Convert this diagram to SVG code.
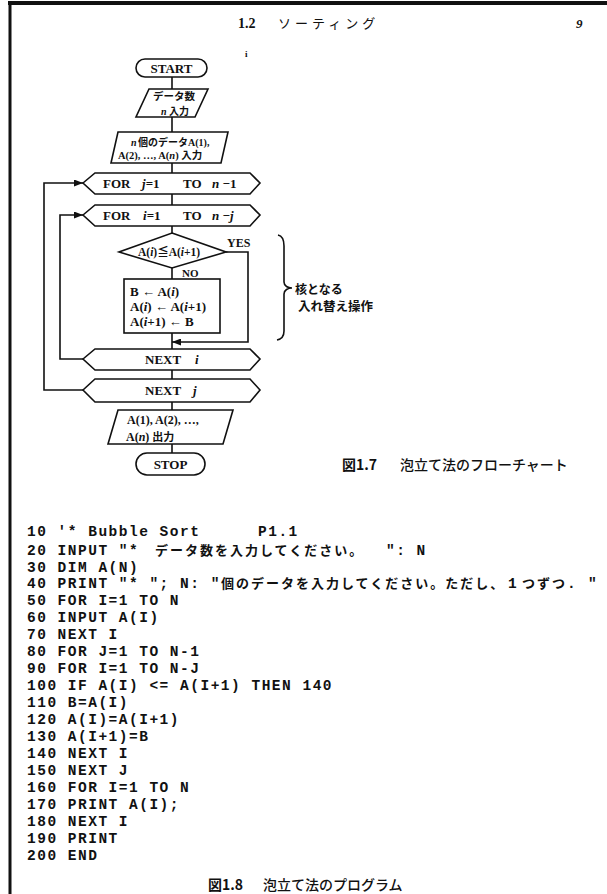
<svg xmlns="http://www.w3.org/2000/svg" width="607" height="894" viewBox="0 0 607 894">
<style>
.s{fill:#fff;stroke:#111;stroke-width:1.6}
.c{fill:none;stroke:#111;stroke-width:1.6}
.t{font-family:"Liberation Serif","Noto Sans CJK JP",serif;font-weight:bold;fill:#111}
.j{font-family:"Noto Sans CJK JP",sans-serif;font-weight:bold;fill:#111}
.it{font-style:italic}
.code{font-family:"Liberation Mono","Noto Sans CJK JP",monospace;font-weight:bold;font-size:14.5px;letter-spacing:1.5px;fill:#111}
.cj{font-family:"Noto Sans CJK JP",sans-serif;font-weight:bold;font-size:13px;letter-spacing:2px}
</style>
<defs>
<marker id="arr" markerUnits="userSpaceOnUse" markerWidth="9" markerHeight="7" refX="9" refY="3.5" orient="auto">
<path d="M0,0 L9,3.5 L0,7 z" fill="#111"/>
</marker>
</defs>
<rect width="607" height="894" fill="#fff"/>
<g id="page-border">
<line x1="8" y1="3" x2="607" y2="3" stroke="#111" stroke-width="4"/>
<line x1="10" y1="1" x2="10" y2="894" stroke="#111" stroke-width="3"/>
</g>
<g id="header">
<text class="t" x="238" y="28" font-size="14" fill="#333">1.2</text>
<text class="j" x="278" y="28" font-size="13" letter-spacing="4" style="font-weight:normal" fill="#333">ソーティング</text>
<text class="t it" x="576" y="28" font-size="13">9</text>
<text class="t" x="245" y="57" font-size="9">i</text>
</g>
<g id="connectors">
<path class="c" d="M172,77 V89 M172,117 V132 M172,163 V173 M172,194 V205 M172,226 V233 M172,268 V279 M172,333 V349 M172,370 V379 M172,402 V410 M172,444 V453"/>
<path class="c" d="M226,252 H248 V342 H172" marker-end="url(#arr)"/>
<path class="c" d="M83,359 H60 V215 H83" marker-end="url(#arr)"/>
<path class="c" d="M83,390 H44 V183 H83" marker-end="url(#arr)"/>
<text class="t" x="227" y="247" font-size="12">YES</text>
<text class="t" x="182" y="277" font-size="11">NO</text>
</g>
<g id="start">
<rect class="s" x="136" y="59" width="71" height="18" rx="9"/>
<text class="t" x="171.5" y="73" font-size="13" text-anchor="middle">START</text>
</g>
<g id="input-n">
<polygon class="s" points="149,89 208,89 195,117 136,117"/>
<text class="j" x="153" y="100" font-size="10.5">データ数</text>
<text class="t" x="161" y="115" font-size="10"><tspan class="it">n</tspan><tspan class="j" x="169">入力</tspan></text>
</g>
<g id="input-data">
<polygon class="s" points="118,132 228,132 221,163 111,163"/>
<text class="t" x="131" y="146" font-size="10"><tspan class="it">n</tspan><tspan class="j" x="138">個のデータ</tspan><tspan>A(1),</tspan></text>
<text class="t" x="118" y="158.5" font-size="10.5">A(2), …, A(<tspan class="it">n</tspan>) <tspan class="j">入力</tspan></text>
</g>
<g id="for-j">
<polygon class="s" points="83,183 95,173 250,173 260,183 250,194 95,194"/>
<text class="t" y="188" font-size="13"><tspan x="103">FOR</tspan><tspan x="142" class="it">j</tspan><tspan>=1</tspan><tspan x="183">TO</tspan><tspan x="212" class="it">n</tspan><tspan> −1</tspan></text>
</g>
<g id="for-i">
<polygon class="s" points="83,215 95,205 250,205 260,215 250,226 95,226"/>
<text class="t" y="220" font-size="13"><tspan x="103">FOR</tspan><tspan x="143" class="it">i</tspan><tspan>=1</tspan><tspan x="183">TO</tspan><tspan x="212" class="it">n</tspan><tspan> −</tspan><tspan class="it">j</tspan></text>
</g>
<g id="compare">
<polygon class="s" points="172,233 226,252 172,268 119,252"/>
<text class="t" x="138" y="256" font-size="11.5">A(<tspan class="it">i</tspan>)≦A(<tspan class="it">i</tspan>+1)</text>
</g>
<g id="swap">
<rect class="s" x="124" y="279" width="96" height="54"/>
<text class="t" x="130" y="296" font-size="13">B ← A(<tspan class="it">i</tspan>)</text>
<text class="t" x="130" y="311" font-size="13">A(<tspan class="it">i</tspan>) ← A(<tspan class="it">i</tspan>+1)</text>
<text class="t" x="130" y="326" font-size="13">A(<tspan class="it">i</tspan>+1) ← B</text>
</g>
<g id="brace">
<path class="c" stroke-width="1.4" d="M278,235 C283,236 284,240 284,246 L284,282 C284,286 288,288 292,288 C288,288 284,290 284,294 L284,331 C284,336 282,339 277,340"/>
<text class="j" x="295" y="294" font-size="12">核となる</text>
<text class="j" x="298" y="311" font-size="12.5">入れ替え操作</text>
</g>
<g id="next-i">
<polygon class="s" points="83,359 95,349 250,349 260,359 250,370 95,370"/>
<text class="t" y="364" font-size="13"><tspan x="145">NEXT</tspan><tspan x="195" class="it">i</tspan></text>
</g>
<g id="next-j">
<polygon class="s" points="83,390 95,379 250,379 260,390 250,402 95,402"/>
<text class="t" y="395" font-size="13"><tspan x="145">NEXT</tspan><tspan x="193" class="it">j</tspan></text>
</g>
<g id="output">
<polygon class="s" points="118,410 233,410 223,444 108,444"/>
<text class="t" x="127" y="424" font-size="12">A(1), A(2), …,</text>
<text class="t" x="126" y="441" font-size="12">A(<tspan class="it">n</tspan>) <tspan class="j" font-size="11">出力</tspan></text>
</g>
<g id="stop">
<rect class="s" x="136" y="453" width="69" height="22" rx="11"/>
<text class="t" x="170.5" y="469" font-size="13" text-anchor="middle">STOP</text>
</g>
<g id="caption-1-7">
<text class="j" x="342" y="470" font-size="14">図1.7</text>
<text class="j" x="400" y="470" font-size="14" style="font-weight:500">泡立て法のフローチャート</text>
</g>
<g id="program">
<text class="code" x="27" y="535.5">10 '* Bubble Sort<tspan x="258">P1.1</tspan></text>
<text class="code" x="27" y="555">20 INPUT "* <tspan class="cj" x="155">データ数を入力してください。</tspan><tspan x="386">": N</tspan></text>
<text class="code" x="27" y="571.5">30 DIM A(N)</text>
<text class="code" x="27" y="588">40 PRINT "* "; N: "<tspan class="cj" x="221">個のデータを入力してください。ただし、</tspan><tspan x="508">1</tspan><tspan class="cj" x="522">つずつ</tspan><tspan x="567">.</tspan><tspan x="588">"</tspan></text>
<text class="code" x="27" y="605">50 FOR I=1 TO N</text>
<text class="code" x="27" y="622">60 INPUT A(I)</text>
<text class="code" x="27" y="639">70 NEXT I</text>
<text class="code" x="27" y="656">80 FOR J=1 TO N-1</text>
<text class="code" x="27" y="673">90 FOR I=1 TO N-J</text>
<text class="code" x="27" y="690">100 IF A(I) &lt;= A(I+1) THEN 140</text>
<text class="code" x="27" y="707">110 B=A(I)</text>
<text class="code" x="27" y="724">120 A(I)=A(I+1)</text>
<text class="code" x="27" y="741">130 A(I+1)=B</text>
<text class="code" x="27" y="758">140 NEXT I</text>
<text class="code" x="27" y="775">150 NEXT J</text>
<text class="code" x="27" y="792">160 FOR I=1 TO N</text>
<text class="code" x="27" y="809">170 PRINT A(I);</text>
<text class="code" x="27" y="826">180 NEXT I</text>
<text class="code" x="27" y="843">190 PRINT</text>
<text class="code" x="27" y="860">200 END</text>
</g>
<g id="caption-1-8">
<text class="j" x="208" y="890" font-size="14">図1.8</text>
<text class="j" x="263" y="890" font-size="14" style="font-weight:500">泡立て法のプログラム</text>
</g>
</svg>
